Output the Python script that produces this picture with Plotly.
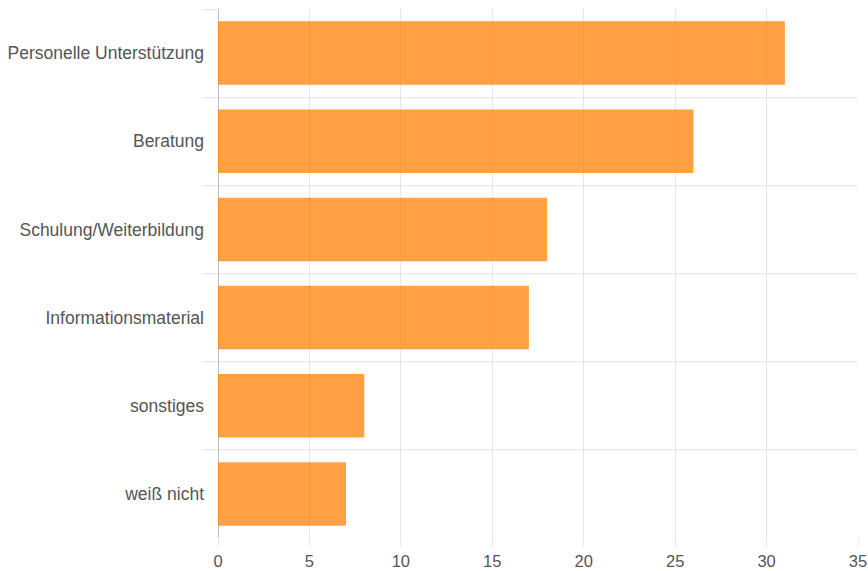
import plotly.graph_objects as go

# answers and counts, top to bottom
categories = [
    "Personelle Unterstützung",
    "Beratung",
    "Schulung/Weiterbildung",
    "Informationsmaterial",
    "sonstiges",
    "weiß nicht",
]
counts = [31, 26, 18, 17, 8, 7]
x_ticks = [0, 5, 10, 15, 20, 25, 30, 35]

grid = "#e6e6e6"

fig = go.Figure()
fig.add_trace(go.Bar(
    x=counts,
    y=categories,
    orientation="h",
    width=0.72,
    marker=dict(color="rgba(255,140,25,0.82)", line=dict(width=0)),
    hoverinfo="x+y",
))

fig.update_layout(
    width=868,
    height=571,
    margin=dict(l=218, r=10, t=9, b=33, autoexpand=False),
    plot_bgcolor="white",
    paper_bgcolor="white",
    showlegend=False,
    font=dict(family="Liberation Sans, Arial, sans-serif", size=17.5, color="#555"),
)

fig.update_xaxes(
    range=[0, 35],
    tickvals=x_ticks,
    tickfont=dict(size=16.5),
    automargin=False,
    showgrid=True, gridcolor=grid, gridwidth=1,
    ticks="outside", ticklen=8, tickcolor=grid,
    ticklabelstandoff=0,
    zeroline=True, zerolinecolor="#bdbdbd", zerolinewidth=1,
    showline=False,
)
fig.update_yaxes(
    type="category",
    autorange="reversed",
    automargin=False,
    tickson="boundaries",
    showgrid=True, gridcolor=grid, gridwidth=1,
    ticks="outside", ticklen=14, tickcolor=grid,
    ticklabelstandoff=13,
    zeroline=False,
    showline=False,
)

# drop the browser's default body margin so the figure fills the window
fig.write_html(
    "out.html",
    config={"displayModeBar": False},
    post_script="document.body.style.margin='0';",
)
